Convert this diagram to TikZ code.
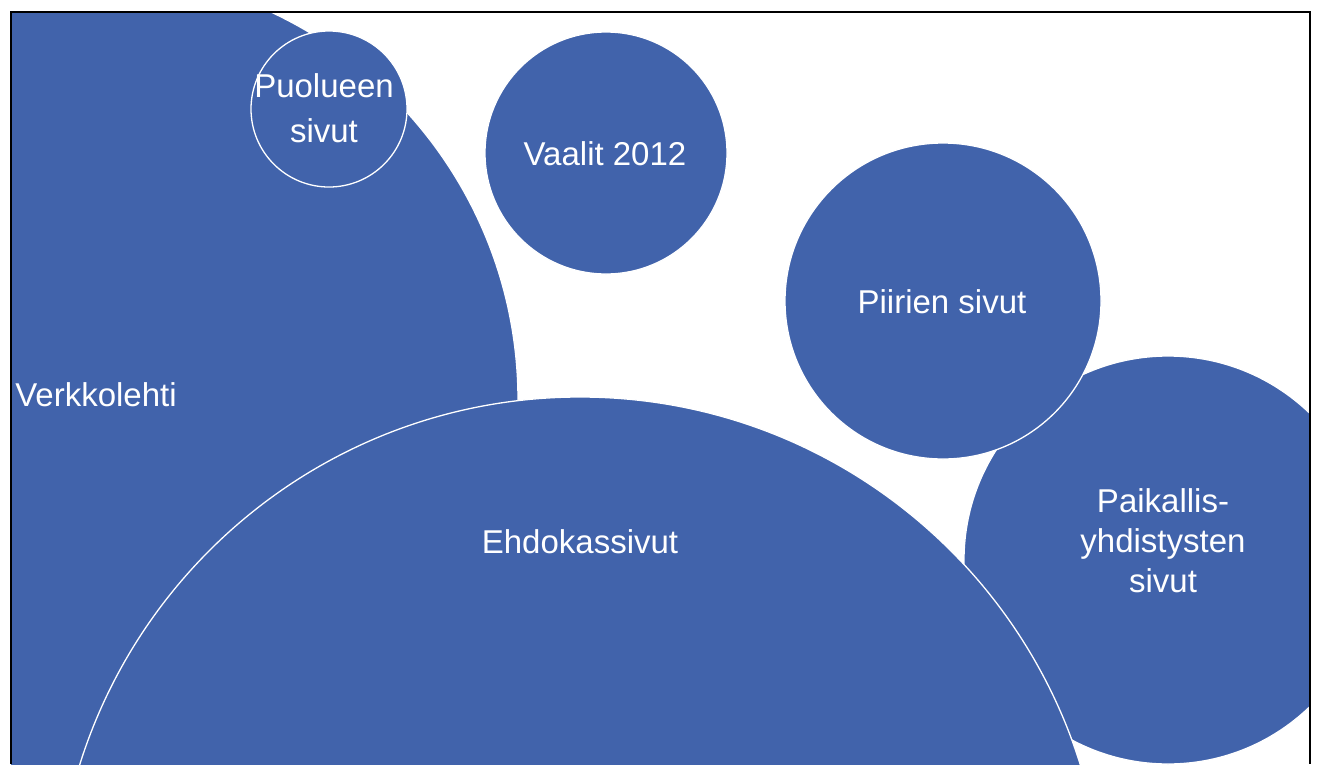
\documentclass[tikz,border=0pt]{standalone}
\usepackage{fontspec}
\setmainfont{Liberation Sans}
\definecolor{bub}{RGB}{65,99,171}
\begin{document}
\begin{tikzpicture}[x=1pt,y=-1pt,
  bubble/.style={circle,fill=bub,draw=white,line width=1.3pt,inner sep=0pt},
  lbl/.style={text=white,font=\fontsize{33}{40}\selectfont,align=center,inner sep=0pt}]
\useasboundingbox (0,0) rectangle (1323,764);
\begin{scope}
\clip (11,12) rectangle (1310,764);
\node[bubble,minimum size=856pt] (verkko) at (90,400) {};
\node[bubble,minimum size=242pt] (vaalit) at (606,153) {};
\node[bubble,minimum size=156pt] (puolue) at (329,109) {};
\node[bubble,minimum size=408pt] (paikal) at (1168,560) {};
\node[bubble,minimum size=316pt] (piiri) at (943,301) {};
\node[bubble,minimum size=1048pt] (ehdokas) at (580,921) {};
\end{scope}
\coordinate (fbl) at (11,764);
\coordinate (ftl) at (11,12);
\coordinate (ftr) at (1310,12);
\coordinate (fbr) at (1310,764);
\draw[line width=1.5pt] (fbl) -- (ftl) -- (ftr) -- (fbr);
\node[lbl,anchor=base] (tverkko) at (96,406) {Verkkolehti};
\node[lbl,anchor=base] (tvaalit) at (605,165) {Vaalit 2012};
\node[lbl,font=\fontsize{33}{45}\selectfont] (tpuolue) at (324,108) {Puolueen\\sivut};
\node[lbl,anchor=base] (tpiiri) at (942,313) {Piirien sivut};
\node[lbl] (tpaikal) at (1163,541) {Paikallis-\\yhdistysten\\sivut};
\node[lbl,anchor=base] (tehdokas) at (580,553) {Ehdokassivut};
\end{tikzpicture}
\end{document}
